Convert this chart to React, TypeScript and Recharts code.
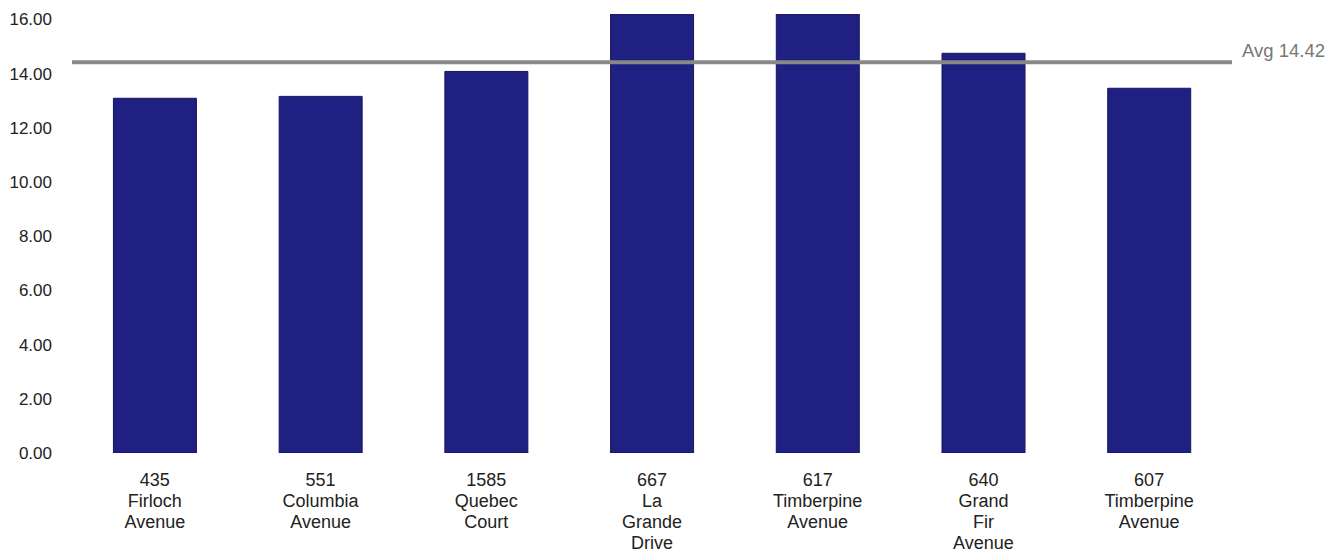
import { Bar, BarChart, Label, ReferenceLine, XAxis, YAxis } from "recharts";

const CATEGORIES = [
  "435 Firloch Avenue",
  "551 Columbia Avenue",
  "1585 Quebec Court",
  "667 La Grande Drive",
  "617 Timberpine Avenue",
  "640 Grand Fir Avenue",
  "607 Timberpine Avenue",
];
const VALUES = [13.09, 13.16, 14.08, 16.2, 16.2, 14.75, 13.46];
const Y_TICKS = [0, 2, 4, 6, 8, 10, 12, 14, 16];

const FONT = "'Liberation Sans', Arial, sans-serif";

const data = CATEGORIES.map((name, i) => ({ name, value: VALUES[i] }));
const avg = VALUES.reduce((s, v) => s + v, 0) / VALUES.length;

// one word per line, as in the original labels
function AddressTick({ x, y, payload }: any) {
  const words = String(payload.value).split(" ");
  return (
    <text x={x} y={y} textAnchor="middle" fill="#222" fontSize={18} fontFamily={FONT}>
      {words.map((w, i) => (
        <tspan key={i} x={x} dy={i === 0 ? 24.5 : 21}>
          {w}
        </tspan>
      ))}
    </text>
  );
}

export default function App() {
  return (
    <div style={{ position: "absolute", left: 0, top: 0, width: 1341, height: 552, background: "#fff" }}>
      <BarChart
        width={1341}
        height={552}
        data={data}
        margin={{ top: 14, right: 109, bottom: 0, left: 0 }}
        barCategoryGap="25%"
      >
        <YAxis
          domain={[0, 16.2]}
          ticks={Y_TICKS}
          width={72}
          axisLine={false}
          tickLine={false}
          tickSize={0}
          tickMargin={20}
          tickFormatter={(v: number) => v.toFixed(2)}
          tick={{ fill: "#222", fontSize: 17, fontFamily: FONT }}
          allowDataOverflow
        />
        <XAxis
          dataKey="name"
          height={99}
          axisLine={false}
          tickLine={false}
          interval={0}
          tick={<AddressTick />}
        />
        <Bar dataKey="value" fill="#201f82" stroke="#17175e" strokeWidth={1} isAnimationActive={false} />
        <ReferenceLine y={avg} stroke="#888888" strokeWidth={4}>
          <Label
            value={`Avg ${avg.toFixed(2)}`}
            position="right"
            offset={10}
            dy={-12}
            fill="#777"
            fontSize={18.5}
            fontFamily={FONT}
          />
        </ReferenceLine>
      </BarChart>
    </div>
  );
}
